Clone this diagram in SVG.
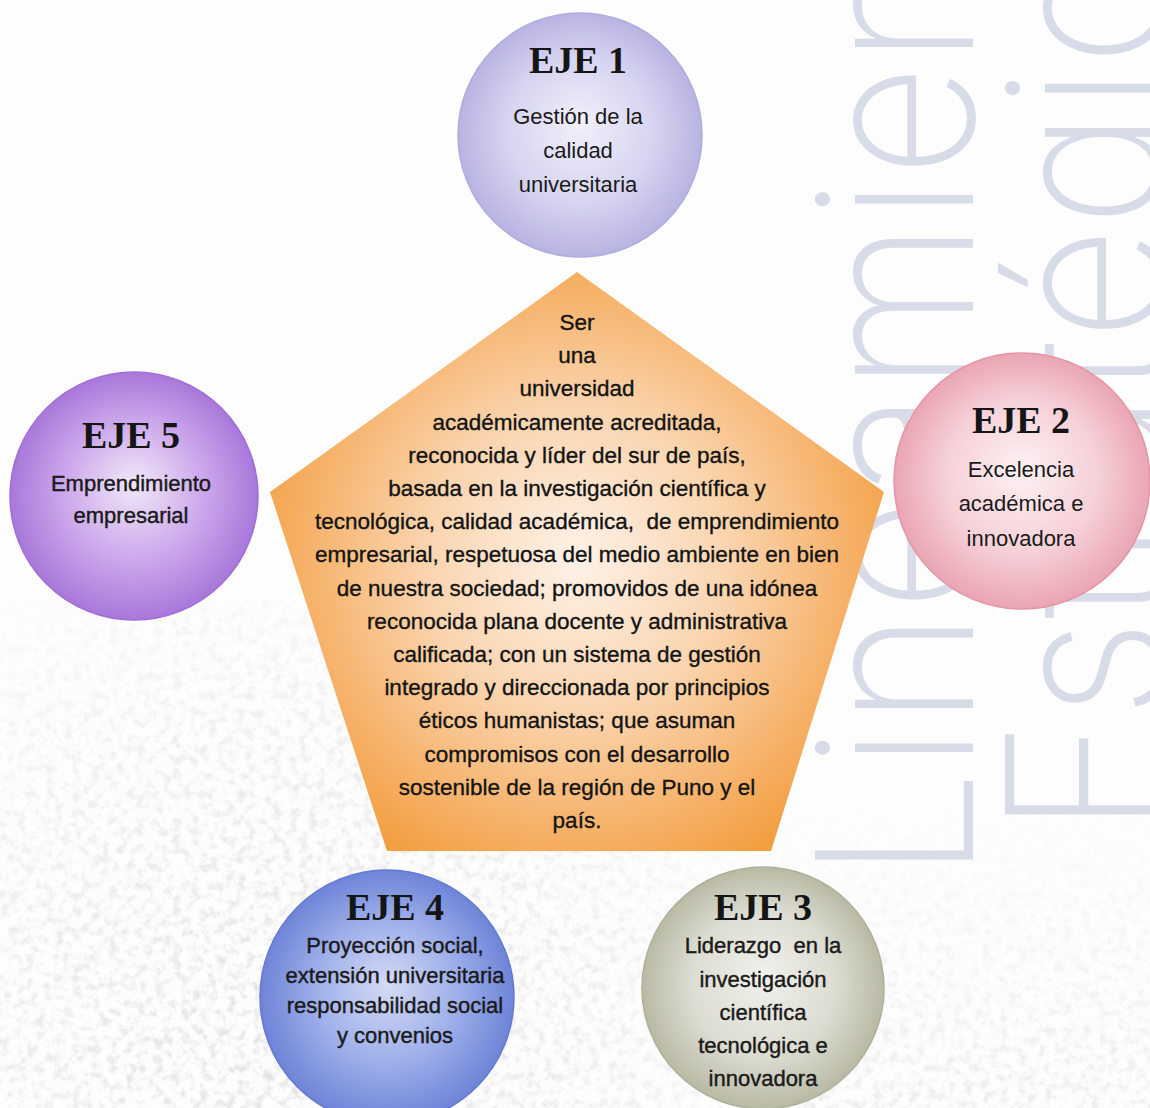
<svg xmlns="http://www.w3.org/2000/svg" width="1150" height="1108" viewBox="0 0 1150 1108">
  <style>
    .head { font-family: "Liberation Serif", "Times New Roman", serif; font-weight: bold; font-size: 38px; fill: #151515; text-anchor: middle; }
    .lbl { font-family: "Liberation Sans", Arial, sans-serif; font-size: 22px; fill: #1a1a1a; text-anchor: middle; }
    .dark { stroke: #1a1a1a; stroke-width: 0.4; }
    .vision { font-family: "Liberation Sans", Arial, sans-serif; font-size: 22.5px; fill: #141414; stroke: #141414; stroke-width: 0.35; text-anchor: middle; }
    .bigword { font-family: Inter, Lato, "Liberation Sans", sans-serif; font-weight: 200; font-size: 217px; fill: #d8dce9; }
  </style>
  <defs>
    <radialGradient id="gPenta" cx="577" cy="560" r="340" gradientUnits="userSpaceOnUse">
      <stop offset="0" stop-color="#fdf2e8"/>
      <stop offset="0.45" stop-color="#fad4ae"/>
      <stop offset="0.8" stop-color="#f6b168"/>
      <stop offset="1" stop-color="#f29f40"/>
    </radialGradient>
    <radialGradient id="gLav" cx="0.5" cy="0.5" r="0.5" fx="0.5" fy="0.45">
      <stop offset="0" stop-color="#f1f0fa"/>
      <stop offset="0.6" stop-color="#d6d4f0"/>
      <stop offset="1" stop-color="#b8b4e2"/>
    </radialGradient>
    <radialGradient id="gPurple" cx="0.5" cy="0.5" r="0.5" fx="0.5" fy="0.45">
      <stop offset="0" stop-color="#f1e8f8"/>
      <stop offset="0.55" stop-color="#cda9ec"/>
      <stop offset="1" stop-color="#a878da"/>
    </radialGradient>
    <radialGradient id="gPink" cx="0.5" cy="0.5" r="0.5" fx="0.5" fy="0.45">
      <stop offset="0" stop-color="#fdf1f3"/>
      <stop offset="0.6" stop-color="#f6d0d7"/>
      <stop offset="1" stop-color="#eaa5b3"/>
    </radialGradient>
    <radialGradient id="gBlue" cx="0.5" cy="0.5" r="0.5" fx="0.5" fy="0.45">
      <stop offset="0" stop-color="#d5dbf5"/>
      <stop offset="0.55" stop-color="#9fb0ea"/>
      <stop offset="1" stop-color="#6e84d7"/>
    </radialGradient>
    <radialGradient id="gOlive" cx="0.5" cy="0.5" r="0.5" fx="0.5" fy="0.45">
      <stop offset="0" stop-color="#f1f1ed"/>
      <stop offset="0.6" stop-color="#dcdcd2"/>
      <stop offset="1" stop-color="#b9baa4"/>
    </radialGradient>
    <!-- mottled, recycled-paper speckle -->
    <filter id="paper" x="0" y="0" width="1" height="1">
      <feTurbulence type="fractalNoise" baseFrequency="0.11" numOctaves="5" seed="11" result="n"/>
      <feColorMatrix in="n" type="matrix" values="0 0 0 0 0.52  0 0 0 0 0.52  0 0 0 0 0.52  0 0 0 -3.2 1.72"/>
    </filter>
    <radialGradient id="fadeGrain" cx="280" cy="1060" r="560" gradientUnits="userSpaceOnUse">
      <stop offset="0" stop-color="#fff" stop-opacity="0.9"/>
      <stop offset="0.6" stop-color="#fff" stop-opacity="0.5"/>
      <stop offset="1" stop-color="#fff" stop-opacity="0"/>
    </radialGradient>
    <linearGradient id="fadeGrainRight" x1="0" y1="0" x2="0" y2="1">
      <stop offset="0" stop-color="#fff" stop-opacity="0"/>
      <stop offset="1" stop-color="#fff" stop-opacity="0.6"/>
    </linearGradient>
    <mask id="grainMask">
      <rect x="0" y="600" width="1150" height="508" fill="url(#fadeGrain)"/>
      <rect x="780" y="800" width="370" height="308" fill="url(#fadeGrainRight)"/>
    </mask>
  </defs>

  <!-- page -->
  <rect width="1150" height="1108" fill="#fdfdfd"/>
  <g id="paper-grain" mask="url(#grainMask)" opacity="0.45">
    <rect x="0" y="600" width="1150" height="508" filter="url(#paper)"/>
  </g>

  <!-- large faint title running up the right margin -->
  <g id="margin-title">
    <text class="bigword" transform="translate(973 880) rotate(-90)" textLength="930" lengthAdjust="spacingAndGlyphs">Lineamien</text>
    <text class="bigword" transform="translate(1163 835) rotate(-90)" textLength="877" lengthAdjust="spacingAndGlyphs">Estratégic</text>
  </g>

  <!-- central vision statement -->
  <g id="vision">
    <polygon points="577,272 884,492 771,851 387,851 270,492" fill="url(#gPenta)"/>
    <text class="vision" x="577" y="330">Ser</text>
    <text class="vision" x="577" y="363">una</text>
    <text class="vision" x="577" y="396">universidad</text>
    <text class="vision" x="577" y="430">académicamente acreditada,</text>
    <text class="vision" x="577" y="463">reconocida y líder del sur de país,</text>
    <text class="vision" x="577" y="496">basada en la investigación científica y</text>
    <text class="vision" x="577" y="529" xml:space="preserve">tecnológica, calidad académica,  de emprendimiento</text>
    <text class="vision" x="577" y="562">empresarial, respetuosa del medio ambiente en bien</text>
    <text class="vision" x="577" y="596">de nuestra sociedad; promovidos de una idónea</text>
    <text class="vision" x="577" y="629">reconocida plana docente y administrativa</text>
    <text class="vision" x="577" y="662">calificada; con un sistema de gestión</text>
    <text class="vision" x="577" y="695">integrado y direccionada por principios</text>
    <text class="vision" x="577" y="728">éticos humanistas; que asuman</text>
    <text class="vision" x="577" y="762">compromisos con el desarrollo</text>
    <text class="vision" x="577" y="795">sostenible de la región de Puno y el</text>
    <text class="vision" x="577" y="828">país.</text>
  </g>

  <g id="eje1">
    <circle cx="580" cy="135" r="122" fill="url(#gLav)" stroke="#b0acdd" stroke-width="1.5"/>
    <text class="head" x="578" y="73">EJE 1</text>
    <text class="lbl" x="578" y="124">Gestión de la</text>
    <text class="lbl" x="578" y="158">calidad</text>
    <text class="lbl" x="578" y="192">universitaria</text>
  </g>

  <g id="eje2">
    <circle cx="1022" cy="481" r="128" fill="url(#gPink)" stroke="#e495a6" stroke-width="1.5"/>
    <text class="head" x="1021" y="433">EJE 2</text>
    <text class="lbl" x="1021" y="477">Excelencia</text>
    <text class="lbl" x="1021" y="511">académica e</text>
    <text class="lbl" x="1021" y="546">innovadora</text>
  </g>

  <g id="eje3">
    <circle cx="763" cy="988" r="121" fill="url(#gOlive)" stroke="#aeb097" stroke-width="1.5"/>
    <text class="head" x="763" y="920">EJE 3</text>
    <text class="lbl dark" x="763" y="953" xml:space="preserve">Liderazgo  en la</text>
    <text class="lbl dark" x="763" y="987">investigación</text>
    <text class="lbl dark" x="763" y="1020">científica</text>
    <text class="lbl dark" x="763" y="1053">tecnológica e</text>
    <text class="lbl dark" x="763" y="1086">innovadora</text>
  </g>

  <g id="eje4">
    <circle cx="387" cy="997" r="127" fill="url(#gBlue)" stroke="#6379d2" stroke-width="1.5"/>
    <text class="head" x="395" y="920">EJE 4</text>
    <text class="lbl dark" x="395" y="953">Proyección social,</text>
    <text class="lbl dark" x="395" y="983">extensión universitaria</text>
    <text class="lbl dark" x="395" y="1013">responsabilidad social</text>
    <text class="lbl dark" x="395" y="1043">y convenios</text>
  </g>

  <g id="eje5">
    <circle cx="134" cy="496" r="124" fill="url(#gPurple)" stroke="#a070d6" stroke-width="1.5"/>
    <text class="head" x="131" y="448">EJE 5</text>
    <text class="lbl dark" x="131" y="491">Emprendimiento</text>
    <text class="lbl dark" x="131" y="523">empresarial</text>
  </g>
</svg>
